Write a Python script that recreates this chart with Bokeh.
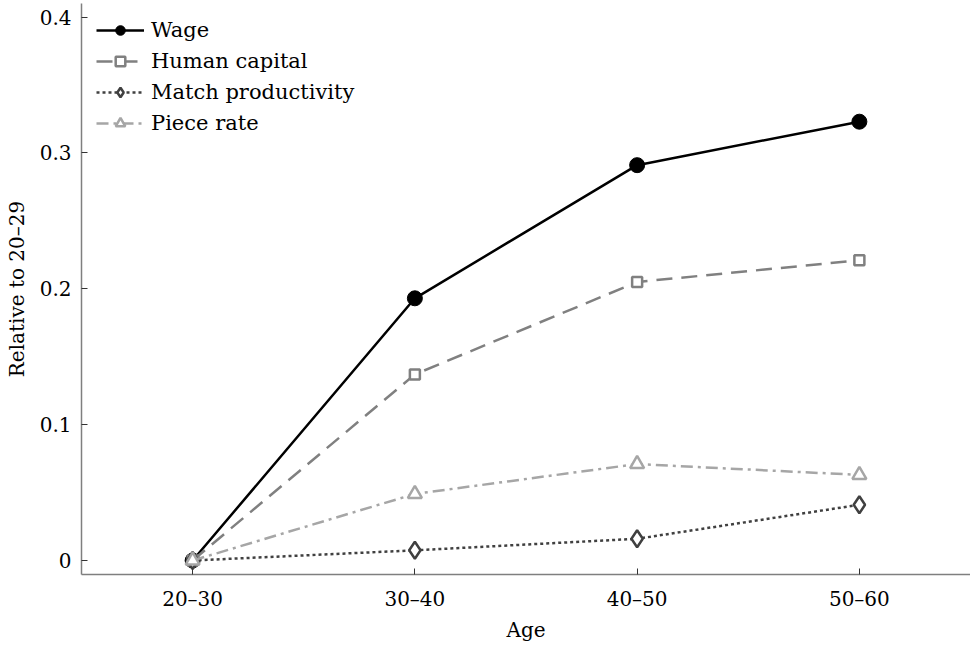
from bokeh.plotting import figure
from bokeh.models import FactorRange, Range1d, FixedTicker, Legend
from bokeh.embed import file_html
from bokeh.resources import INLINE

# Age groups and the four series (relative to the 20-29 group)
ages = ["20–30", "30–40", "40–50", "50–60"]
wage = [0.0, 0.193, 0.291, 0.323]
human_capital = [0.0, 0.137, 0.205, 0.221]
match_productivity = [0.0, 0.0075, 0.016, 0.041]
piece_rate = [0.0, 0.049, 0.071, 0.063]

y_ticks = [0, 0.1, 0.2, 0.3, 0.4]
y_tick_labels = ["0", "0.1", "0.2", "0.3", "0.4"]

FONT = "DejaVu Serif"
FS = "20px"
LEGEND_FS = "21px"

p = figure(
    width=970, height=645,
    x_range=FactorRange(*ages),
    y_range=Range1d(-0.0103, 0.41),
    output_backend="svg", toolbar_location=None,
    min_border_left=81, min_border_right=0, min_border_top=3, min_border_bottom=71,
)
p.outline_line_color = None
p.xgrid.grid_line_color = None
p.ygrid.grid_line_color = None
p.background_fill_color = "white"
p.border_fill_color = "white"

for ax in (p.xaxis[0], p.yaxis[0]):
    ax.axis_line_color = "#7f7f7f"
    ax.axis_line_width = 1.5
    ax.major_tick_line_color = "#333333"
    ax.major_tick_in = 6
    ax.major_tick_out = 0
    ax.minor_tick_line_color = None
    ax.major_label_text_font = FONT
    ax.major_label_text_font_size = FS
    ax.major_label_text_color = "black"
    ax.axis_label_text_font = FONT
    ax.axis_label_text_font_size = FS
    ax.axis_label_text_font_style = "normal"
    ax.axis_label_text_color = "black"

p.xaxis.axis_label = "Age"
p.xaxis.major_label_standoff = 12
p.xaxis.axis_label_standoff = 4
p.yaxis.axis_label = "Relative to 20–29"
p.yaxis.ticker = FixedTicker(ticks=y_ticks)
p.yaxis.major_label_overrides = {t: s for t, s in zip(y_ticks, y_tick_labels)}
p.yaxis.major_label_standoff = 10
p.yaxis.axis_label_standoff = 8

items = []

r1 = p.line(ages, wage, line_color="black", line_width=2.5)
m1 = p.scatter(ages, wage, marker="circle", size=15, fill_color="black", line_color="black")
items.append(("Wage", [r1, m1]))

r2 = p.line(ages, human_capital, line_color="#808080", line_width=2.5, line_dash="16 9")
m2 = p.scatter(ages, human_capital, marker="square", size=10, fill_color="white",
               line_color="#808080", line_width=2.5)
items.append(("Human capital", [r2, m2]))

r3 = p.line(ages, match_productivity, line_color="#404040", line_width=2.5, line_dash="3 3")
m3 = p.scatter(ages, match_productivity, marker="diamond", size=17, fill_color="white",
               line_color="#404040", line_width=2.5)
items.append(("Match productivity", [r3, m3]))

r4 = p.line(ages, piece_rate, line_color="#a6a6a6", line_width=2.5, line_dash="12 5 3 5")
m4 = p.scatter(ages, piece_rate, marker="triangle", size=14, fill_color="white",
               line_color="#a6a6a6", line_width=2.5)
items.append(("Piece rate", [r4, m4]))

legend = Legend(items=items, location="top_left")
legend.border_line_color = None
legend.background_fill_alpha = 0
legend.label_text_font = FONT
legend.label_text_font_size = LEGEND_FS
legend.label_text_color = "black"
legend.glyph_width = 48
legend.glyph_height = 24
legend.label_height = 24
legend.spacing = 7
legend.padding = 8
legend.margin = 15
legend.label_standoff = 7
p.add_layout(legend)

open("out.html", "w").write(file_html(p, INLINE))
